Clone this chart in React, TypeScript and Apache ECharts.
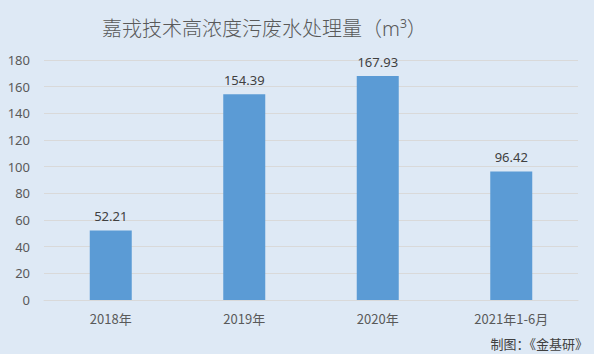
import React, { useEffect, useRef } from "react";
import * as echarts from "echarts";

const categories = ["2018年", "2019年", "2020年", "2021年1-6月"];
const values = [52.21, 154.39, 167.93, 96.42];
const titleText = "嘉戎技术高浓度污废水处理量（m³）";
const sourceText = "制图：《金基研》";

export default function App() {
  const ref = useRef<HTMLDivElement>(null);
  useEffect(() => {
    const chart = echarts.init(ref.current!, null, { renderer: "svg" });
    chart.setOption({
      animation: false,
      backgroundColor: "#dee9f5",
      title: {
        text: titleText,
        left: 97,
        top: 13,
        textStyle: { fontSize: 20, fontWeight: 300, color: "#595959", fontFamily: "Noto Sans, Noto Sans CJK SC" },
      },
      graphic: [
        {
          type: "text",
          right: 6,
          bottom: 4,
          style: { text: sourceText, fontSize: 13, fill: "#404040", fontFamily: "Noto Sans CJK SC" },
        },
      ],
      grid: { left: 44, right: 16, top: 60, bottom: 54 },
      xAxis: {
        type: "category",
        data: categories,
        axisLine: { show: true, lineStyle: { color: "#d9d9d9" } },
        axisTick: { show: false },
        axisLabel: { color: "#595959", fontSize: 13, margin: 12, fontFamily: "Noto Sans CJK SC" },
      },
      yAxis: {
        type: "value",
        min: 0,
        max: 180,
        interval: 20,
        axisLine: { show: false },
        axisTick: { show: false },
        axisLabel: { color: "#595959", fontSize: 13, margin: 14, fontFamily: "Noto Sans" },
        splitLine: { lineStyle: { color: "#d9d9d9" } },
      },
      series: [
        {
          type: "bar",
          data: values,
          barWidth: 42,
          itemStyle: { color: "#5b9bd5" },
          label: {
            show: true,
            position: "top",
            distance: 8,
            color: "#404040",
            fontSize: 13,
            fontFamily: "Noto Sans",
            formatter: (p: any) => p.value.toFixed(2),
          },
        },
      ],
    });
    return () => chart.dispose();
  }, []);
  return <div ref={ref} style={{ width: 594, height: 354, position: "fixed", left: 0, top: 0 }} />;
}
